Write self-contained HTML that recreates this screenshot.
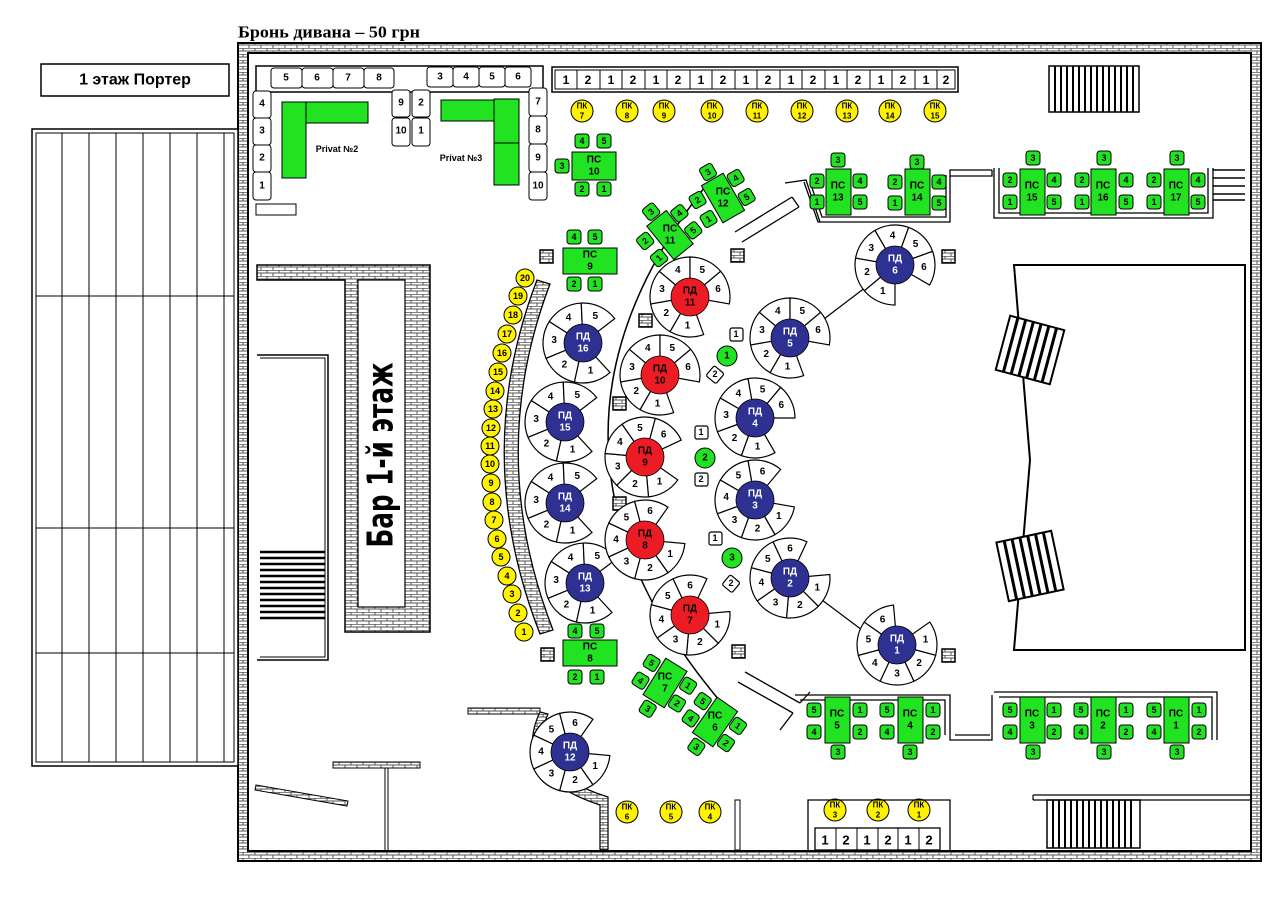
<!DOCTYPE html>
<html><head><meta charset="utf-8"><style>
html,body{margin:0;padding:0;background:#fff;width:1280px;height:904px;overflow:hidden}
svg text{font-family:"Liberation Sans",sans-serif;font-weight:bold;text-anchor:middle;dominant-baseline:central}
</style></head><body>
<svg width="1280" height="904" viewBox="0 0 1280 904" xmlns="http://www.w3.org/2000/svg">
<defs>
<pattern id="br" width="12" height="6" patternUnits="userSpaceOnUse"><rect width="12" height="6" fill="#fff"/><path d="M0 .3H12M0 3H12M3 0V3M9 3V6" stroke="#555" stroke-width="1"/></pattern>
<path id="w6" d="M0,0 L36.25,-16.9 A40,40 0 0 1 36.25,16.9Z" fill="#fff" stroke="#000" stroke-width="1.2"/>
<path id="w5" d="M0,0 L35.48,-18.47 A40,40 0 0 1 35.48,18.47Z" fill="#fff" stroke="#000" stroke-width="1.2"/>
<rect id="ch" x="-7" y="-7" width="14" height="14" rx="3" fill="#22e322" stroke="#000" stroke-width="1"/>
<rect id="bk" width="13" height="13" fill="url(#br)" stroke="#000" stroke-width="1.5"/>
</defs>
<rect width="1280" height="904" fill="#fff"/>
<text x="329" y="32" style="font-family:'Liberation Serif',serif;font-size:17px" textLength="182" lengthAdjust="spacingAndGlyphs">Бронь дивана – 50 грн</text>

<!-- outer wall -->
<path d="M238,43H1261V861H238Z M248,53V851H1251V53Z" fill="url(#br)" fill-rule="evenodd" stroke="#000" stroke-width="2"/>

<!-- left porter -->
<rect x="41" y="64" width="188" height="32" fill="#fff" stroke="#000" stroke-width="1.5"/>
<text x="135" y="80" style="font-size:16px">1 этаж Портер</text>
<rect x="32" y="129" width="206" height="637" fill="#fff" stroke="#000" stroke-width="1.5"/>
<rect x="36" y="133" width="198" height="629" fill="none" stroke="#000" stroke-width="1"/>
<path d="M62,133V762M89,133V762M116,133V762M143,133V762M170,133V762M197,133V762M224,133V762M36,296H234M36,528H234M36,653H234" stroke="#000" stroke-width="1"/>

<!-- top-left privat -->
<path d="M256,66H543V92H256Z" fill="none" stroke="#000" stroke-width="1.5"/>
<g fill="#fff" stroke="#000" stroke-width="1"><rect x="271" y="68" width="31" height="20" rx="3"/><rect x="302" y="68" width="31" height="20" rx="3"/><rect x="333" y="68" width="31" height="20" rx="3"/><rect x="364" y="68" width="30" height="20" rx="3"/>
<rect x="427" y="67" width="26" height="20" rx="3"/><rect x="453" y="67" width="26" height="20" rx="3"/><rect x="479" y="67" width="26" height="20" rx="3"/><rect x="505" y="67" width="26" height="20" rx="3"/>
<rect x="253" y="91" width="18" height="27" rx="3"/><rect x="253" y="118" width="18" height="27" rx="3"/><rect x="253" y="145" width="18" height="27" rx="3"/><rect x="253" y="172" width="18" height="28" rx="3"/>
<rect x="392" y="90" width="18" height="27" rx="3"/><rect x="392" y="118" width="18" height="28" rx="3"/><rect x="412" y="90" width="18" height="27" rx="3"/><rect x="412" y="118" width="18" height="28" rx="3"/>
<rect x="529" y="88" width="18" height="28" rx="3"/><rect x="529" y="116" width="18" height="28" rx="3"/><rect x="529" y="144" width="18" height="28" rx="3"/><rect x="529" y="172" width="18" height="28" rx="3"/>
<rect x="256" y="204" width="40" height="11"/></g>
<g style="font-size:10px;font-weight:normal"><text x="286" y="78">5</text><text x="317" y="78">6</text><text x="348" y="78">7</text><text x="379" y="78">8</text>
<text x="440" y="77">3</text><text x="466" y="77">4</text><text x="492" y="77">5</text><text x="518" y="77">6</text>
<text x="262" y="104">4</text><text x="262" y="131">3</text><text x="262" y="158">2</text><text x="262" y="186">1</text>
<text x="401" y="103">9</text><text x="401" y="131">10</text><text x="421" y="103">2</text><text x="421" y="131">1</text>
<text x="538" y="102">7</text><text x="538" y="130">8</text><text x="538" y="158">9</text><text x="538" y="186">10</text></g>
<g fill="#22e322" stroke="#000" stroke-width="1"><rect x="282" y="102" width="24" height="76"/><rect x="306" y="102" width="62" height="21"/><rect x="441" y="100" width="53" height="21"/><rect x="494" y="99" width="25" height="44"/><rect x="494" y="143" width="25" height="42"/></g>
<text x="337" y="149" style="font-size:9px">Privat №2</text><text x="461" y="158" style="font-size:9px">Privat №3</text>

<!-- top row 1 2 -->
<rect x="552" y="67" width="406" height="25" fill="#fff" stroke="#000" stroke-width="1.5"/>
<rect x="555" y="70" width="400" height="19" fill="none" stroke="#000" stroke-width="1"/>
<path d="M577,70V89M600,70V89M622,70V89M645,70V89M667,70V89M690,70V89M712,70V89M735,70V89M757,70V89M780,70V89M802,70V89M825,70V89M847,70V89M870,70V89M892,70V89M915,70V89M937,70V89" stroke="#000"/>
<g style="font-size:12px;font-weight:normal"><text x="566" y="80">1</text><text x="588" y="80">2</text><text x="611" y="80">1</text><text x="633" y="80">2</text><text x="656" y="80">1</text><text x="678" y="80">2</text><text x="701" y="80">1</text><text x="723" y="80">2</text><text x="746" y="80">1</text><text x="768" y="80">2</text><text x="791" y="80">1</text><text x="813" y="80">2</text><text x="836" y="80">1</text><text x="858" y="80">2</text><text x="881" y="80">1</text><text x="903" y="80">2</text><text x="926" y="80">1</text><text x="946" y="80">2</text></g>

<!-- yellow PK -->
<g fill="#fff200" stroke="#000" stroke-width="1"><circle cx="582" cy="111" r="11"/><circle cx="627" cy="111" r="11"/><circle cx="664" cy="111" r="11"/><circle cx="712" cy="111" r="11"/><circle cx="757" cy="111" r="11"/><circle cx="802" cy="111" r="11"/><circle cx="847" cy="111" r="11"/><circle cx="890" cy="111" r="11"/><circle cx="935" cy="111" r="11"/>
<circle cx="627" cy="812" r="11"/><circle cx="671" cy="812" r="11"/><circle cx="710" cy="812" r="11"/><circle cx="835" cy="810" r="11"/><circle cx="878" cy="810" r="11"/><circle cx="919" cy="810" r="11"/></g>
<g style="font-size:8px"><text x="582" y="106">ПК</text><text x="582" y="116">7</text><text x="627" y="106">ПК</text><text x="627" y="116">8</text><text x="664" y="106">ПК</text><text x="664" y="116">9</text><text x="712" y="106">ПК</text><text x="712" y="116">10</text><text x="757" y="106">ПК</text><text x="757" y="116">11</text><text x="802" y="106">ПК</text><text x="802" y="116">12</text><text x="847" y="106">ПК</text><text x="847" y="116">13</text><text x="890" y="106">ПК</text><text x="890" y="116">14</text><text x="935" y="106">ПК</text><text x="935" y="116">15</text>
<text x="627" y="807">ПК</text><text x="627" y="817">6</text><text x="671" y="807">ПК</text><text x="671" y="817">5</text><text x="710" y="807">ПК</text><text x="710" y="817">4</text><text x="835" y="805">ПК</text><text x="835" y="815">3</text><text x="878" y="805">ПК</text><text x="878" y="815">2</text><text x="919" y="805">ПК</text><text x="919" y="815">1</text></g>

<!-- stairs -->
<rect x="1049" y="66" width="90" height="46" fill="#fff" stroke="#000" stroke-width="1.5"/>
<path d="M1055,66V112M1061,66V112M1067,66V112M1073,66V112M1079,66V112M1085,66V112M1091,66V112M1097,66V112M1103,66V112M1109,66V112M1115,66V112M1121,66V112M1127,66V112M1133,66V112" stroke="#000" stroke-width="2"/>
<rect x="1047" y="800" width="93" height="48" fill="#fff" stroke="#000" stroke-width="1.5"/>
<path d="M1053,800V848M1059,800V848M1065,800V848M1071,800V848M1077,800V848M1083,800V848M1089,800V848M1095,800V848M1101,800V848M1107,800V848M1113,800V848M1119,800V848M1125,800V848M1131,800V848" stroke="#000" stroke-width="2"/>
<path d="M1033,795H1251M1033,800H1251M1033,795V800" stroke="#000" stroke-width="1.2" fill="none"/>

<!-- bar -->
<path d="M257,265H430V632H345V280H257Z" fill="url(#br)" stroke="#000" stroke-width="1.5"/>
<rect x="358" y="280" width="47" height="327" fill="#fff" stroke="#000" stroke-width="1.2"/>
<path d="M257,355H328V660H257" fill="#fff" stroke="#000" stroke-width="1.5"/>
<path d="M260,358H325V657H260" fill="none" stroke="#000" stroke-width="1"/>
<path d="M260,552H325M260,558H325M260,564H325M260,570H325M260,576H325M260,582H325M260,588H325M260,594H325M260,600H325M260,606H325M260,612H325M260,618H325" stroke="#000" stroke-width="2.5"/>
<text transform="translate(381,455) rotate(-90)" style="font-size:36px;font-weight:bold;font-family:'Liberation Sans Narrow','DejaVu Sans Condensed',sans-serif" textLength="185" lengthAdjust="spacingAndGlyphs">Бар 1-й этаж</text>

<!-- left curved brick -->
<path d="M537,280 Q470,455 540,634 L553,630 Q485,455 550,284 Z" fill="url(#br)" stroke="#000" stroke-width="1.3"/>
<g fill="#fff200" stroke="#000" stroke-width="1"><circle cx="525" cy="278" r="9"/><circle cx="518" cy="296" r="9"/><circle cx="513" cy="315" r="9"/><circle cx="507" cy="334" r="9"/><circle cx="502" cy="353" r="9"/><circle cx="498" cy="372" r="9"/><circle cx="495" cy="391" r="9"/><circle cx="493" cy="409" r="9"/><circle cx="491" cy="428" r="9"/><circle cx="490" cy="446" r="9"/><circle cx="490" cy="464" r="9"/><circle cx="491" cy="483" r="9"/><circle cx="492" cy="502" r="9"/><circle cx="494" cy="520" r="9"/><circle cx="497" cy="539" r="9"/><circle cx="501" cy="557" r="9"/><circle cx="507" cy="576" r="9"/><circle cx="512" cy="594" r="9"/><circle cx="518" cy="613" r="9"/><circle cx="524" cy="632" r="9"/></g>
<g style="font-size:9px"><text x="525" y="278">20</text><text x="518" y="296">19</text><text x="513" y="315">18</text><text x="507" y="334">17</text><text x="502" y="353">16</text><text x="498" y="372">15</text><text x="495" y="391">14</text><text x="493" y="409">13</text><text x="491" y="428">12</text><text x="490" y="446">11</text><text x="490" y="464">10</text><text x="491" y="483">9</text><text x="492" y="502">8</text><text x="494" y="520">7</text><text x="497" y="539">6</text><text x="501" y="557">5</text><text x="507" y="576">4</text><text x="512" y="594">3</text><text x="518" y="613">2</text><text x="524" y="632">1</text></g>

<path d="M708,183 Q500,445 725,707" fill="none" stroke="#000" stroke-width="1.5"/>
<path d="M735,232 L792,197 M742,242 L799,207 M792,197 L799,207 M785,183 L806,180 L820,222" fill="none" stroke="#000" stroke-width="1.3"/>
<path d="M745,672 L800,703 M738,682 L793,713 M793,713 L780,730 M800,703 L810,692" fill="none" stroke="#000" stroke-width="1.3"/>
<path d="M820,322 L866,287 M822,600 L862,630" stroke="#000" stroke-width="1.2"/>
<path d="M804,182 L818,222 H950 V170 H992 M810,182 L822,217 H946 V175 M950,176 H992 V170" fill="none" stroke="#000" stroke-width="1.3"/>
<path d="M994,168 V218 H1213 V168 M999,168 V213 H1208 V168" fill="none" stroke="#000" stroke-width="1.3"/>
<path d="M1213,170H1245M1213,178H1245M1213,186H1245M1213,194H1245M1213,200H1245" stroke="#000" stroke-width="1.5"/>
<path d="M795,695 H950 V740 H992 V695 M800,700 H945 V735 M955,735H990" fill="none" stroke="#000" stroke-width="1.3"/>
<path d="M994,692 H1217 V740 M999,697 H1212 V740" fill="none" stroke="#000" stroke-width="1.3"/>

<!-- stage -->
<path d="M1014,265 H1245 V650 H1014 L1030,460 Z" fill="#fff" stroke="#000" stroke-width="2"/>
<g transform="translate(1030,350) rotate(15)"><rect x="-28" y="-28" width="56" height="56" fill="#fff" stroke="#000" stroke-width="2"/><path d="M-20,-28V28M-12,-28V28M-4,-28V28M4,-28V28M12,-28V28M20,-28V28" stroke="#000" stroke-width="3"/></g>
<g transform="translate(1030,566) rotate(-12)"><rect x="-28" y="-30" width="56" height="60" fill="#fff" stroke="#000" stroke-width="2"/><path d="M-20,-30V30M-12,-30V30M-4,-30V30M4,-30V30M12,-30V30M20,-30V30" stroke="#000" stroke-width="3"/></g>

<use href="#bk" x="540" y="250"/><use href="#bk" x="731" y="249"/><use href="#bk" x="942" y="250"/><use href="#bk" x="639" y="314"/><use href="#bk" x="613" y="397"/><use href="#bk" x="613" y="497"/><use href="#bk" x="541" y="648"/><use href="#bk" x="732" y="645"/><use href="#bk" x="942" y="649"/>

<path d="M468,708 H540 V714 H468Z" fill="url(#br)" stroke="#000"/>
<path d="M540,712 Q510,775 600,805 L600,850 L608,850 L608,797 Q522,770 548,714Z" fill="url(#br)" stroke="#000" stroke-width="1.2"/>
<rect x="333" y="762" width="87" height="6" fill="url(#br)" stroke="#000"/>
<path d="M385,768V850M388,768V850" stroke="#000"/>
<path d="M256,785 L348,801 L347,806 L255,790Z" fill="url(#br)" stroke="#000"/>
<rect x="735" y="800" width="5" height="50" fill="#fff" stroke="#000"/>
<path d="M808,850V800H950V850" fill="none" stroke="#000" stroke-width="1.3"/>
<rect x="815" y="828" width="125" height="22" fill="#fff" stroke="#000" stroke-width="1.3"/>
<path d="M836,828V850M857,828V850M878,828V850M898,828V850M919,828V850" stroke="#000"/>
<g style="font-size:13px;font-weight:normal"><text x="825" y="840">1</text><text x="846" y="840">2</text><text x="867" y="840">1</text><text x="888" y="840">2</text><text x="908" y="840">1</text><text x="929" y="840">2</text></g>

<g fill="#22e322" stroke="#000"><circle cx="727" cy="356" r="10"/><circle cx="705" cy="458" r="10"/><circle cx="732" cy="558" r="10"/></g>
<g style="font-size:10px"><text x="727" y="356">1</text><text x="705" y="458">2</text><text x="732" y="558">3</text></g>
<g fill="#fff" stroke="#000" stroke-width="1.2"><rect x="730" y="328" width="13" height="13" rx="2"/><rect x="709" y="368" width="13" height="13" rx="2" transform="rotate(40 715 374)"/><rect x="695" y="426" width="13" height="13" rx="2"/><rect x="695" y="473" width="13" height="13" rx="2"/><rect x="709" y="532" width="13" height="13" rx="2"/><rect x="725" y="577" width="13" height="13" rx="2" transform="rotate(40 731 583)"/></g>
<g style="font-size:9px;font-weight:normal"><text x="736" y="334">1</text><text x="715" y="374">2</text><text x="701" y="432">1</text><text x="701" y="479">2</text><text x="715" y="538">1</text><text x="731" y="583">2</text></g>

<g fill="#22e322" stroke="#000" stroke-width="1">
<rect x="572" y="152" width="44" height="28"/><rect x="563" y="248" width="54" height="26"/><rect x="563" y="640" width="54" height="26"/>
<rect x="826" y="169" width="25" height="46"/><rect x="905" y="169" width="25" height="46"/><rect x="1020" y="169" width="25" height="46"/><rect x="1091" y="169" width="25" height="46"/><rect x="1164" y="169" width="25" height="46"/>
<rect x="825" y="697" width="25" height="46"/><rect x="898" y="697" width="25" height="46"/><rect x="1020" y="697" width="25" height="46"/><rect x="1091" y="697" width="25" height="46"/><rect x="1164" y="697" width="25" height="46"/>
</g>
<g style="font-size:10px">
<text x="594" y="160">ПС</text><text x="594" y="172">10</text><text x="590" y="255">ПС</text><text x="590" y="267">9</text><text x="590" y="647">ПС</text><text x="590" y="659">8</text>
<text x="838" y="186">ПС</text><text x="838" y="198">13</text><text x="917" y="186">ПС</text><text x="917" y="198">14</text><text x="1032" y="186">ПС</text><text x="1032" y="198">15</text><text x="1103" y="186">ПС</text><text x="1103" y="198">16</text><text x="1176" y="186">ПС</text><text x="1176" y="198">17</text>
<text x="837" y="714">ПС</text><text x="837" y="726">5</text><text x="910" y="714">ПС</text><text x="910" y="726">4</text><text x="1032" y="714">ПС</text><text x="1032" y="726">3</text><text x="1103" y="714">ПС</text><text x="1103" y="726">2</text><text x="1176" y="714">ПС</text><text x="1176" y="726">1</text>
</g>
<g>
<use href="#ch" x="582" y="141"/><use href="#ch" x="604" y="141"/><use href="#ch" x="562" y="166"/><use href="#ch" x="582" y="189"/><use href="#ch" x="604" y="189"/>
<use href="#ch" x="574" y="237"/><use href="#ch" x="595" y="237"/><use href="#ch" x="574" y="284"/><use href="#ch" x="595" y="284"/>
<use href="#ch" x="575" y="631"/><use href="#ch" x="597" y="631"/><use href="#ch" x="575" y="677"/><use href="#ch" x="597" y="677"/>
<use href="#ch" x="838" y="160"/><use href="#ch" x="817" y="181"/><use href="#ch" x="817" y="202"/><use href="#ch" x="860" y="181"/><use href="#ch" x="860" y="202"/>
<use href="#ch" x="917" y="162"/><use href="#ch" x="895" y="182"/><use href="#ch" x="895" y="203"/><use href="#ch" x="939" y="182"/><use href="#ch" x="939" y="203"/>
<use href="#ch" x="1033" y="158"/><use href="#ch" x="1010" y="180"/><use href="#ch" x="1010" y="202"/><use href="#ch" x="1054" y="180"/><use href="#ch" x="1054" y="202"/>
<use href="#ch" x="1104" y="158"/><use href="#ch" x="1082" y="180"/><use href="#ch" x="1082" y="202"/><use href="#ch" x="1126" y="180"/><use href="#ch" x="1126" y="202"/>
<use href="#ch" x="1177" y="158"/><use href="#ch" x="1154" y="180"/><use href="#ch" x="1154" y="202"/><use href="#ch" x="1198" y="180"/><use href="#ch" x="1198" y="202"/>
<use href="#ch" x="814" y="710"/><use href="#ch" x="814" y="732"/><use href="#ch" x="860" y="710"/><use href="#ch" x="860" y="732"/><use href="#ch" x="838" y="752"/>
<use href="#ch" x="887" y="710"/><use href="#ch" x="887" y="732"/><use href="#ch" x="933" y="710"/><use href="#ch" x="933" y="732"/><use href="#ch" x="910" y="752"/>
<use href="#ch" x="1010" y="710"/><use href="#ch" x="1010" y="732"/><use href="#ch" x="1054" y="710"/><use href="#ch" x="1054" y="732"/><use href="#ch" x="1033" y="752"/>
<use href="#ch" x="1081" y="710"/><use href="#ch" x="1081" y="732"/><use href="#ch" x="1126" y="710"/><use href="#ch" x="1126" y="732"/><use href="#ch" x="1104" y="752"/>
<use href="#ch" x="1154" y="710"/><use href="#ch" x="1154" y="732"/><use href="#ch" x="1199" y="710"/><use href="#ch" x="1199" y="732"/><use href="#ch" x="1177" y="752"/>
</g>
<g style="font-size:9px;font-weight:normal">
<text x="582" y="141">4</text><text x="604" y="141">5</text><text x="562" y="166">3</text><text x="582" y="189">2</text><text x="604" y="189">1</text>
<text x="574" y="237">4</text><text x="595" y="237">5</text><text x="574" y="284">2</text><text x="595" y="284">1</text>
<text x="575" y="631">4</text><text x="597" y="631">5</text><text x="575" y="677">2</text><text x="597" y="677">1</text>
<text x="838" y="160">3</text><text x="817" y="181">2</text><text x="817" y="202">1</text><text x="860" y="181">4</text><text x="860" y="202">5</text>
<text x="917" y="162">3</text><text x="895" y="182">2</text><text x="895" y="203">1</text><text x="939" y="182">4</text><text x="939" y="203">5</text>
<text x="1033" y="158">3</text><text x="1010" y="180">2</text><text x="1010" y="202">1</text><text x="1054" y="180">4</text><text x="1054" y="202">5</text>
<text x="1104" y="158">3</text><text x="1082" y="180">2</text><text x="1082" y="202">1</text><text x="1126" y="180">4</text><text x="1126" y="202">5</text>
<text x="1177" y="158">3</text><text x="1154" y="180">2</text><text x="1154" y="202">1</text><text x="1198" y="180">4</text><text x="1198" y="202">5</text>
<text x="814" y="710">5</text><text x="814" y="732">4</text><text x="860" y="710">1</text><text x="860" y="732">2</text><text x="838" y="752">3</text>
<text x="887" y="710">5</text><text x="887" y="732">4</text><text x="933" y="710">1</text><text x="933" y="732">2</text><text x="910" y="752">3</text>
<text x="1010" y="710">5</text><text x="1010" y="732">4</text><text x="1054" y="710">1</text><text x="1054" y="732">2</text><text x="1033" y="752">3</text>
<text x="1081" y="710">5</text><text x="1081" y="732">4</text><text x="1126" y="710">1</text><text x="1126" y="732">2</text><text x="1104" y="752">3</text>
<text x="1154" y="710">5</text><text x="1154" y="732">4</text><text x="1199" y="710">1</text><text x="1199" y="732">2</text><text x="1177" y="752">3</text>
</g>

<g transform="translate(670,235) rotate(-39)"><rect x="-12.5" y="-21.5" width="25" height="43" fill="#22e322" stroke="#000"/><use href="#ch" x="0" y="-30"/><use href="#ch" x="-23" y="-11"/><use href="#ch" x="-23" y="11"/><use href="#ch" x="21" y="-11"/><use href="#ch" x="21" y="11"/>
<g style="font-size:9px;font-weight:normal"><text x="0" y="-30">3</text><text x="-23" y="-11">2</text><text x="-23" y="11">1</text><text x="21" y="-11">4</text><text x="21" y="11">5</text></g></g>
<g transform="translate(723,198) rotate(-30)"><rect x="-12.5" y="-21.5" width="25" height="43" fill="#22e322" stroke="#000"/><use href="#ch" x="0" y="-30"/><use href="#ch" x="-23" y="-11"/><use href="#ch" x="-23" y="11"/><use href="#ch" x="21" y="-11"/><use href="#ch" x="21" y="11"/>
<g style="font-size:9px;font-weight:normal"><text x="0" y="-30">3</text><text x="-23" y="-11">2</text><text x="-23" y="11">1</text><text x="21" y="-11">4</text><text x="21" y="11">5</text></g></g>
<g transform="translate(665,683) rotate(32)"><rect x="-12.5" y="-21.5" width="25" height="43" fill="#22e322" stroke="#000"/><use href="#ch" x="-22" y="-10"/><use href="#ch" x="-22" y="11"/><use href="#ch" x="21" y="-10"/><use href="#ch" x="21" y="11"/><use href="#ch" x="-1" y="31"/>
<g style="font-size:9px;font-weight:normal"><text x="-22" y="-10">5</text><text x="-22" y="11">4</text><text x="21" y="-10">1</text><text x="21" y="11">2</text><text x="-1" y="31">3</text></g></g>
<g transform="translate(715,722) rotate(35)"><rect x="-12.5" y="-21.5" width="25" height="43" fill="#22e322" stroke="#000"/><use href="#ch" x="-22" y="-10"/><use href="#ch" x="-22" y="11"/><use href="#ch" x="21" y="-10"/><use href="#ch" x="21" y="11"/><use href="#ch" x="-1" y="31"/>
<g style="font-size:9px;font-weight:normal"><text x="-22" y="-10">5</text><text x="-22" y="11">4</text><text x="21" y="-10">1</text><text x="21" y="11">2</text><text x="-1" y="31">3</text></g></g>
<g style="font-size:10px"><text x="670" y="229">ПС</text><text x="670" y="241">11</text><text x="723" y="192">ПС</text><text x="723" y="204">12</text><text x="665" y="677">ПС</text><text x="665" y="689">7</text><text x="715" y="716">ПС</text><text x="715" y="728">6</text></g>

<g style="font-size:10px;font-weight:normal">
<g transform="translate(583,343)"><use href="#w5" transform="rotate(75)"/><use href="#w5" transform="rotate(130)"/><use href="#w5" transform="rotate(185)"/><use href="#w5" transform="rotate(240)"/><use href="#w5" transform="rotate(295)"/>
<text transform="rotate(75) translate(29,0) rotate(-75)">1</text><text transform="rotate(130) translate(29,0) rotate(-130)">2</text><text transform="rotate(185) translate(29,0) rotate(-185)">3</text><text transform="rotate(240) translate(29,0) rotate(-240)">4</text><text transform="rotate(295) translate(29,0) rotate(-295)">5</text></g>
<g transform="translate(565,422)"><use href="#w5" transform="rotate(75)"/><use href="#w5" transform="rotate(130)"/><use href="#w5" transform="rotate(185)"/><use href="#w5" transform="rotate(240)"/><use href="#w5" transform="rotate(295)"/>
<text transform="rotate(75) translate(29,0) rotate(-75)">1</text><text transform="rotate(130) translate(29,0) rotate(-130)">2</text><text transform="rotate(185) translate(29,0) rotate(-185)">3</text><text transform="rotate(240) translate(29,0) rotate(-240)">4</text><text transform="rotate(295) translate(29,0) rotate(-295)">5</text></g>
<g transform="translate(565,503)"><use href="#w5" transform="rotate(75)"/><use href="#w5" transform="rotate(130)"/><use href="#w5" transform="rotate(185)"/><use href="#w5" transform="rotate(240)"/><use href="#w5" transform="rotate(295)"/>
<text transform="rotate(75) translate(29,0) rotate(-75)">1</text><text transform="rotate(130) translate(29,0) rotate(-130)">2</text><text transform="rotate(185) translate(29,0) rotate(-185)">3</text><text transform="rotate(240) translate(29,0) rotate(-240)">4</text><text transform="rotate(295) translate(29,0) rotate(-295)">5</text></g>
<g transform="translate(585,583)"><use href="#w5" transform="rotate(75)"/><use href="#w5" transform="rotate(130)"/><use href="#w5" transform="rotate(185)"/><use href="#w5" transform="rotate(240)"/><use href="#w5" transform="rotate(295)"/>
<text transform="rotate(75) translate(29,0) rotate(-75)">1</text><text transform="rotate(130) translate(29,0) rotate(-130)">2</text><text transform="rotate(185) translate(29,0) rotate(-185)">3</text><text transform="rotate(240) translate(29,0) rotate(-240)">4</text><text transform="rotate(295) translate(29,0) rotate(-295)">5</text></g>
</g>
<g style="font-size:10px;font-weight:normal">
<g transform="translate(690,297)"><use href="#w6" transform="rotate(95)"/><use href="#w6" transform="rotate(145)"/><use href="#w6" transform="rotate(195)"/><use href="#w6" transform="rotate(245)"/><use href="#w6" transform="rotate(295)"/><use href="#w6" transform="rotate(345)"/>
<text transform="rotate(95) translate(29,0) rotate(-95)">1</text><text transform="rotate(145) translate(29,0) rotate(-145)">2</text><text transform="rotate(195) translate(29,0) rotate(-195)">3</text><text transform="rotate(245) translate(29,0) rotate(-245)">4</text><text transform="rotate(295) translate(29,0) rotate(-295)">5</text><text transform="rotate(345) translate(29,0) rotate(-345)">6</text></g>
<g transform="translate(660,375)"><use href="#w6" transform="rotate(95)"/><use href="#w6" transform="rotate(145)"/><use href="#w6" transform="rotate(195)"/><use href="#w6" transform="rotate(245)"/><use href="#w6" transform="rotate(295)"/><use href="#w6" transform="rotate(345)"/>
<text transform="rotate(95) translate(29,0) rotate(-95)">1</text><text transform="rotate(145) translate(29,0) rotate(-145)">2</text><text transform="rotate(195) translate(29,0) rotate(-195)">3</text><text transform="rotate(245) translate(29,0) rotate(-245)">4</text><text transform="rotate(295) translate(29,0) rotate(-295)">5</text><text transform="rotate(345) translate(29,0) rotate(-345)">6</text></g>
<g transform="translate(645,457)"><use href="#w6" transform="rotate(60)"/><use href="#w6" transform="rotate(110)"/><use href="#w6" transform="rotate(160)"/><use href="#w6" transform="rotate(210)"/><use href="#w6" transform="rotate(260)"/><use href="#w6" transform="rotate(310)"/>
<text transform="rotate(60) translate(29,0) rotate(-60)">1</text><text transform="rotate(110) translate(29,0) rotate(-110)">2</text><text transform="rotate(160) translate(29,0) rotate(-160)">3</text><text transform="rotate(210) translate(29,0) rotate(-210)">4</text><text transform="rotate(260) translate(29,0) rotate(-260)">5</text><text transform="rotate(310) translate(29,0) rotate(-310)">6</text></g>
<g transform="translate(645,540)"><use href="#w6" transform="rotate(30)"/><use href="#w6" transform="rotate(80)"/><use href="#w6" transform="rotate(130)"/><use href="#w6" transform="rotate(180)"/><use href="#w6" transform="rotate(230)"/><use href="#w6" transform="rotate(280)"/>
<text transform="rotate(30) translate(29,0) rotate(-30)">1</text><text transform="rotate(80) translate(29,0) rotate(-80)">2</text><text transform="rotate(130) translate(29,0) rotate(-130)">3</text><text transform="rotate(180) translate(29,0) rotate(-180)">4</text><text transform="rotate(230) translate(29,0) rotate(-230)">5</text><text transform="rotate(280) translate(29,0) rotate(-280)">6</text></g>
<g transform="translate(690,615)"><use href="#w6" transform="rotate(20)"/><use href="#w6" transform="rotate(70)"/><use href="#w6" transform="rotate(120)"/><use href="#w6" transform="rotate(170)"/><use href="#w6" transform="rotate(220)"/><use href="#w6" transform="rotate(270)"/>
<text transform="rotate(20) translate(29,0) rotate(-20)">1</text><text transform="rotate(70) translate(29,0) rotate(-70)">2</text><text transform="rotate(120) translate(29,0) rotate(-120)">3</text><text transform="rotate(170) translate(29,0) rotate(-170)">4</text><text transform="rotate(220) translate(29,0) rotate(-220)">5</text><text transform="rotate(270) translate(29,0) rotate(-270)">6</text></g>
<g transform="translate(895,265)"><use href="#w6" transform="rotate(115)"/><use href="#w6" transform="rotate(165)"/><use href="#w6" transform="rotate(215)"/><use href="#w6" transform="rotate(265)"/><use href="#w6" transform="rotate(315)"/><use href="#w6" transform="rotate(5)"/>
<text transform="rotate(115) translate(29,0) rotate(-115)">1</text><text transform="rotate(165) translate(29,0) rotate(-165)">2</text><text transform="rotate(215) translate(29,0) rotate(-215)">3</text><text transform="rotate(265) translate(29,0) rotate(-265)">4</text><text transform="rotate(315) translate(29,0) rotate(-315)">5</text><text transform="rotate(5) translate(29,0) rotate(-5)">6</text></g>
<g transform="translate(790,338)"><use href="#w6" transform="rotate(95)"/><use href="#w6" transform="rotate(145)"/><use href="#w6" transform="rotate(195)"/><use href="#w6" transform="rotate(245)"/><use href="#w6" transform="rotate(295)"/><use href="#w6" transform="rotate(345)"/>
<text transform="rotate(95) translate(29,0) rotate(-95)">1</text><text transform="rotate(145) translate(29,0) rotate(-145)">2</text><text transform="rotate(195) translate(29,0) rotate(-195)">3</text><text transform="rotate(245) translate(29,0) rotate(-245)">4</text><text transform="rotate(295) translate(29,0) rotate(-295)">5</text><text transform="rotate(345) translate(29,0) rotate(-345)">6</text></g>
<g transform="translate(755,418)"><use href="#w6" transform="rotate(85)"/><use href="#w6" transform="rotate(135)"/><use href="#w6" transform="rotate(185)"/><use href="#w6" transform="rotate(235)"/><use href="#w6" transform="rotate(285)"/><use href="#w6" transform="rotate(335)"/>
<text transform="rotate(85) translate(29,0) rotate(-85)">1</text><text transform="rotate(135) translate(29,0) rotate(-135)">2</text><text transform="rotate(185) translate(29,0) rotate(-185)">3</text><text transform="rotate(235) translate(29,0) rotate(-235)">4</text><text transform="rotate(285) translate(29,0) rotate(-285)">5</text><text transform="rotate(335) translate(29,0) rotate(-335)">6</text></g>
<g transform="translate(755,500)"><use href="#w6" transform="rotate(35)"/><use href="#w6" transform="rotate(85)"/><use href="#w6" transform="rotate(135)"/><use href="#w6" transform="rotate(185)"/><use href="#w6" transform="rotate(235)"/><use href="#w6" transform="rotate(285)"/>
<text transform="rotate(35) translate(29,0) rotate(-35)">1</text><text transform="rotate(85) translate(29,0) rotate(-85)">2</text><text transform="rotate(135) translate(29,0) rotate(-135)">3</text><text transform="rotate(185) translate(29,0) rotate(-185)">4</text><text transform="rotate(235) translate(29,0) rotate(-235)">5</text><text transform="rotate(285) translate(29,0) rotate(-285)">6</text></g>
<g transform="translate(790,578)"><use href="#w6" transform="rotate(20)"/><use href="#w6" transform="rotate(70)"/><use href="#w6" transform="rotate(120)"/><use href="#w6" transform="rotate(170)"/><use href="#w6" transform="rotate(220)"/><use href="#w6" transform="rotate(270)"/>
<text transform="rotate(20) translate(29,0) rotate(-20)">1</text><text transform="rotate(70) translate(29,0) rotate(-70)">2</text><text transform="rotate(120) translate(29,0) rotate(-120)">3</text><text transform="rotate(170) translate(29,0) rotate(-170)">4</text><text transform="rotate(220) translate(29,0) rotate(-220)">5</text><text transform="rotate(270) translate(29,0) rotate(-270)">6</text></g>
<g transform="translate(897,645)"><use href="#w6" transform="rotate(-10)"/><use href="#w6" transform="rotate(40)"/><use href="#w6" transform="rotate(90)"/><use href="#w6" transform="rotate(140)"/><use href="#w6" transform="rotate(190)"/><use href="#w6" transform="rotate(240)"/>
<text transform="rotate(-10) translate(29,0) rotate(10)">1</text><text transform="rotate(40) translate(29,0) rotate(-40)">2</text><text transform="rotate(90) translate(29,0) rotate(-90)">3</text><text transform="rotate(140) translate(29,0) rotate(-140)">4</text><text transform="rotate(190) translate(29,0) rotate(-190)">5</text><text transform="rotate(240) translate(29,0) rotate(-240)">6</text></g>
<g transform="translate(570,752)"><use href="#w6" transform="rotate(30)"/><use href="#w6" transform="rotate(80)"/><use href="#w6" transform="rotate(130)"/><use href="#w6" transform="rotate(180)"/><use href="#w6" transform="rotate(230)"/><use href="#w6" transform="rotate(280)"/>
<text transform="rotate(30) translate(29,0) rotate(-30)">1</text><text transform="rotate(80) translate(29,0) rotate(-80)">2</text><text transform="rotate(130) translate(29,0) rotate(-130)">3</text><text transform="rotate(180) translate(29,0) rotate(-180)">4</text><text transform="rotate(230) translate(29,0) rotate(-230)">5</text><text transform="rotate(280) translate(29,0) rotate(-280)">6</text></g>
</g>
<g stroke="#000" stroke-width="0.8">
<circle cx="583" cy="343" r="19" fill="#2e3192"/><circle cx="565" cy="422" r="19" fill="#2e3192"/><circle cx="565" cy="503" r="19" fill="#2e3192"/><circle cx="585" cy="583" r="19" fill="#2e3192"/><circle cx="570" cy="752" r="19" fill="#2e3192"/>
<circle cx="690" cy="297" r="19" fill="#ed1c24"/><circle cx="660" cy="375" r="19" fill="#ed1c24"/><circle cx="645" cy="457" r="19" fill="#ed1c24"/><circle cx="645" cy="540" r="19" fill="#ed1c24"/><circle cx="690" cy="615" r="19" fill="#ed1c24"/>
<circle cx="895" cy="265" r="19" fill="#2e3192"/><circle cx="790" cy="338" r="19" fill="#2e3192"/><circle cx="755" cy="418" r="19" fill="#2e3192"/><circle cx="755" cy="500" r="19" fill="#2e3192"/><circle cx="790" cy="578" r="19" fill="#2e3192"/><circle cx="897" cy="645" r="19" fill="#2e3192"/>
</g>
<g style="font-size:10px" fill="#fff">
<text x="583" y="337">ПД</text><text x="583" y="349">16</text><text x="565" y="416">ПД</text><text x="565" y="428">15</text><text x="565" y="497">ПД</text><text x="565" y="509">14</text><text x="585" y="577">ПД</text><text x="585" y="589">13</text><text x="570" y="746">ПД</text><text x="570" y="758">12</text>
<text x="895" y="259">ПД</text><text x="895" y="271">6</text><text x="790" y="332">ПД</text><text x="790" y="344">5</text><text x="755" y="412">ПД</text><text x="755" y="424">4</text><text x="755" y="494">ПД</text><text x="755" y="506">3</text><text x="790" y="572">ПД</text><text x="790" y="584">2</text><text x="897" y="639">ПД</text><text x="897" y="651">1</text>
</g>
<g style="font-size:10px" fill="#000">
<text x="690" y="291">ПД</text><text x="690" y="303">11</text><text x="660" y="369">ПД</text><text x="660" y="381">10</text><text x="645" y="451">ПД</text><text x="645" y="463">9</text><text x="645" y="534">ПД</text><text x="645" y="546">8</text><text x="690" y="609">ПД</text><text x="690" y="621">7</text>
</g>
</svg>
</body></html>
